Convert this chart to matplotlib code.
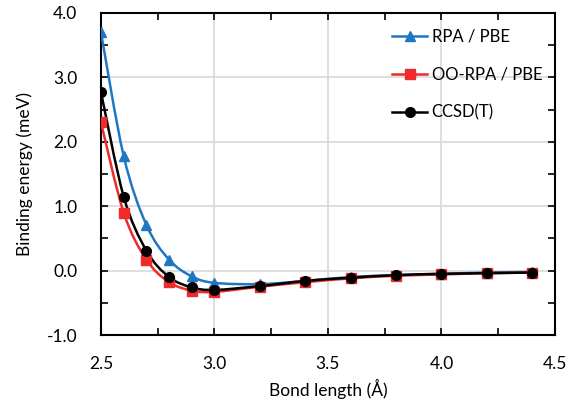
import numpy as np
import matplotlib
matplotlib.use("Agg")
from matplotlib import pyplot as plt
from matplotlib.path import Path
from matplotlib.patches import PathPatch
from matplotlib.ticker import MultipleLocator

plt.rcParams['font.family'] = ['Lato', 'DejaVu Sans']

bond = [2.5, 2.6, 2.7, 2.8, 2.9, 3.0, 3.2, 3.4, 3.6, 3.8, 4.0, 4.2, 4.4]
rpa = [3.70, 1.78, 0.71, 0.17, -0.09, -0.19, -0.21, -0.16, -0.10, -0.07, -0.05, -0.03, -0.02]
oorpa = [2.30, 0.90, 0.17, -0.18, -0.31, -0.33, -0.25, -0.18, -0.12, -0.08, -0.06, -0.04, -0.03]
ccsdt = [2.77, 1.15, 0.31, -0.10, -0.26, -0.30, -0.24, -0.16, -0.11, -0.07, -0.05, -0.04, -0.03]

labels = ["RPA / PBE", "OO-RPA / PBE", "CCSD(T)"]
colors = ["#1f77c4", "#ee2a2a", "black"]
markers = ["^", "s", "o"]


def smooth_path(x, y):
    # excel-like smoothed line: cubic bezier through the points
    x = np.asarray(x, float)
    y = np.asarray(y, float)
    verts = [(x[0], y[0])]
    codes = [Path.MOVETO]
    n = len(x)
    for i in range(n - 1):
        x0, y0 = (x[i - 1], y[i - 1]) if i > 0 else (x[i], y[i])
        x3, y3 = (x[i + 2], y[i + 2]) if i + 2 < n else (x[i + 1], y[i + 1])
        c1 = (x[i] + (x[i + 1] - x0) / 6, y[i] + (y[i + 1] - y0) / 6)
        c2 = (x[i + 1] - (x3 - x[i]) / 6, y[i + 1] - (y3 - y[i]) / 6)
        verts += [c1, c2, (x[i + 1], y[i + 1])]
        codes += [Path.CURVE4] * 3
    return Path(verts, codes)


fig = plt.figure(figsize=(5.76, 4.05), dpi=100)
ax = fig.add_axes([0.1753, 0.1728, 0.7882, 0.7952])

for ys, lab, c, m in zip([rpa, oorpa, ccsdt], labels, colors, markers):
    ax.add_patch(PathPatch(smooth_path(bond, ys), fill=False, edgecolor=c, lw=1.8, zorder=3))
    ax.plot(bond, ys, linestyle='none', marker=m, color=c, markersize=7, zorder=4)
    ax.plot([], [], color=c, lw=1.8, marker=m, markersize=7, label=lab)

ax.set_xlim(2.5, 4.5)
ax.set_ylim(-1.0, 4.0)
ax.xaxis.set_major_locator(MultipleLocator(0.5))
ax.xaxis.set_minor_locator(MultipleLocator(0.25))
ax.yaxis.set_major_locator(MultipleLocator(1.0))
ax.yaxis.set_minor_locator(MultipleLocator(0.5))
ax.xaxis.set_major_formatter(lambda v, p: "{:.1f}".format(v))
ax.yaxis.set_major_formatter(lambda v, p: "{:.1f}".format(v))
ax.tick_params(which='both', direction='in', top=True, right=True, width=1.2, length=5, labelsize=12.5)
ax.tick_params(axis='y', pad=17)
ax.tick_params(axis='x', pad=15)
ax.grid(True, which='major', color='#d9d9d9', lw=1.2)
ax.set_axisbelow(True)
for s in ax.spines.values():
    s.set_linewidth(1.5)

ax.set_xlabel("Bond length (Å)", fontsize=12.5, labelpad=5)
ax.set_ylabel("Binding energy (meV)", fontsize=12.5, labelpad=10)
ax.legend(loc='upper right', frameon=False, fontsize=12, handlelength=2.1,
          handletextpad=0.25, labelspacing=1.3, bbox_to_anchor=(1.005, 0.997))

fig.savefig("out.png", dpi=100)
